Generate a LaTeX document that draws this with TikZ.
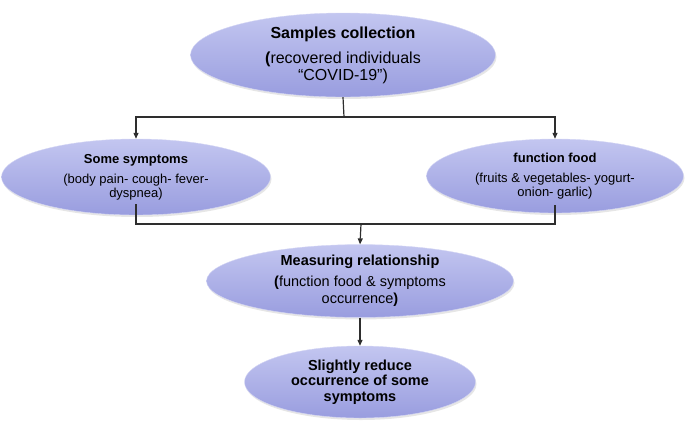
\documentclass[tikz,border=0pt]{standalone}
\usepackage{fontspec}
\setmainfont{Liberation Sans}
\usetikzlibrary{arrows.meta,shapes.geometric,shadows}

\definecolor{bubbletop}{HTML}{C3C6F0}
\definecolor{bubblemid}{HTML}{A6AAE7}
\definecolor{bubblebot}{HTML}{999DDF}
\definecolor{bubblerim}{HTML}{D4D6F4}
\definecolor{linkgray}{HTML}{2E2E2E}

\begin{document}
\begin{tikzpicture}[x=1pt,y=-1pt]

		\tikzstyle{bubble}=[ellipse,inner sep=0pt,align=center,draw=bubblerim,thin,
			top color=bubbletop,middle color=bubblemid,bottom color=bubblebot,
			drop shadow={opacity=0.2,shadow xshift=1pt,shadow yshift=-2pt}]
		\tikzstyle{link}=[line width=1.2pt,linkgray]
		\tikzstyle{flow}=[link,-{Triangle[length=6pt,width=5pt]}]

		\useasboundingbox (0,0) rectangle (685,423);

		% boxes
		\node[bubble,minimum width=305pt,minimum height=84pt,
			font=\fontsize{16}{17}\selectfont] (samples) at (343,55)
			{\textbf{Samples collection}\\[8pt]
			 \textbf{(}recovered individuals\\
			 “COVID-19”)};
		\node[bubble,minimum width=269pt,minimum height=76pt,
			font=\fontsize{13}{13.5}\selectfont] (symptoms) at (136,177)
			{\textbf{Some symptoms}\\[7pt]
			 (body pain- cough- fever-\\
			 dyspnea)};
		\node[bubble,minimum width=257pt,minimum height=74pt,
			font=\fontsize{13}{13.5}\selectfont] (food) at (555,176)
			{\textbf{function food}\\[7pt]
			 (fruits \& vegetables- yogurt-\\
			 onion- garlic)};
		\node[bubble,minimum width=307pt,minimum height=66pt,
			font=\fontsize{14.5}{17}\selectfont] (measuring) at (360,281)
			{\textbf{Measuring relationship}\\[4pt]
			 \textbf{(}function food \& symptoms\\
			 occurrence\textbf{)}};
		\node[bubble,minimum width=231pt,minimum height=72pt,
			font=\fontsize{14.5}{15.5}\bfseries] (reduce) at (360,382)
			{Slightly reduce\\
			 occurrence of some\\
			 symptoms};

		\coordinate (split) at (344,117);
		\coordinate (join) at (361,224);

		% connectors
		\draw[link] (samples.south) -- (split);
		\draw[flow] (split) -| (symptoms.north);
		\draw[flow] (split) -| (food.north);
		\draw[link] ([yshift=11pt]symptoms.south) |- (join);
		\draw[link] ([yshift=8pt]food.south) |- (join);
		\draw[flow] (join) -- (measuring.north);
		\draw[flow] (measuring.south) -- (reduce.north);

\end{tikzpicture}
\end{document}
